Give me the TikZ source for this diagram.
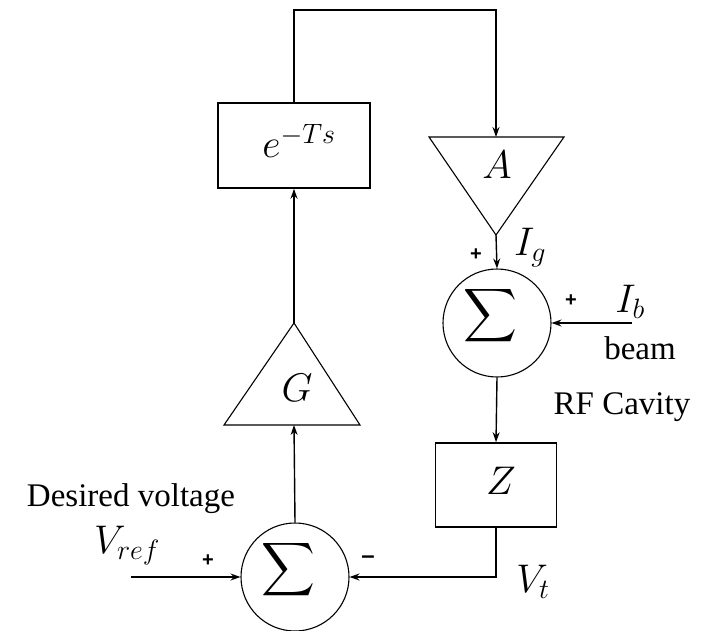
\RequirePackage{fix-cm}
\documentclass[tikz,border=0pt]{standalone}
\usepackage{exscale}
\usepackage{graphicx}
\usepackage{fontspec}
\setmainfont{Liberation Serif}
\newfontfamily\signfont{Liberation Sans}
\usetikzlibrary{arrows.meta}
\begin{document}
\begin{tikzpicture}[x=1pt,y=-1pt,
  conn/.style={line width=1.4pt,-{Stealth[length=10pt,width=7pt]}},
  wire/.style={line width=1.4pt},
  blockbox/.style={draw,line width=1.6pt,rectangle,inner sep=0pt},
  sumnode/.style={draw,line width=1.1pt,circle,minimum size=108pt,inner sep=0pt},
  tri/.style={draw,line width=1.1pt,line join=miter},
  mathlbl/.style={font=\fontsize{40}{48}\selectfont,inner sep=0pt},
  txtlbl/.style={font=\fontsize{33}{40}\selectfont,inner sep=0pt},
  sgn/.style={font=\signfont\bfseries\fontsize{20}{24}\selectfont,inner sep=0pt},
  sigma/.style={font=\fontsize{35}{42}\selectfont,inner sep=0pt}]
\useasboundingbox (0,0) rectangle (706,631);

% blocks
\node[blockbox,minimum width=152pt,minimum height=85pt] (delay) at (294,145.5) {};
\node[mathlbl] (delaytxt) at (299,141) {$e^{-Ts}$};
\node[blockbox,minimum width=121pt,minimum height=84pt] (Z) at (496,485) {};
\node[mathlbl] (Ztxt) at (501,481) {$Z$};

% triangle A (pointing down)
\coordinate (Atop) at (496,137);
\coordinate (Aapex) at (496,235);
\draw[tri] (429,137) -- (564,137) -- (Aapex) -- cycle;
\node[mathlbl] (A) at (497,165) {$A$};

% triangle G (pointing up)
\coordinate (Gbase) at (294,425);
\coordinate (Gapex) at (294,323);
\draw[tri] (224,425) -- (360,425) -- (Gapex) -- cycle;
\node[mathlbl] (G) at (297,388) {$G$};

% summing junctions
\node[sumnode] (sum1) at (497,323) {};
\node[sigma] (sig1) at (490,316) {\scalebox{1.5}{$\displaystyle\sum$}};
\node[sumnode] (sum2) at (295,577) {};
\node[sigma] (sig2) at (288,570) {\scalebox{1.5}{$\displaystyle\sum$}};

% free ends
\coordinate (loopL) at (294,10);
\coordinate (loopR) at (496,10);
\coordinate (Ibin) at (632,323);
\coordinate (Vrefin) at (131,577);
\coordinate (Vtcorner) at (496,577);

% connectors
\draw[conn] (delay.north) -- (loopL) -- (loopR) -- (Atop);
\draw[conn] (Aapex) -- (sum1.north);
\draw[conn] (Ibin) -- (sum1.east);
\draw[conn] (sum1.south) -- (Z.north);
\draw[conn] (Z.south) -- (Vtcorner) -- (sum2.east);
\draw[conn] (Vrefin) -- (sum2.west);
\draw[conn] (sum2.north) -- (Gbase);
\draw[conn] (Gapex) -- (delay.south);

% labels
\node[sgn] (p1) at (476,255) {+};
\node[mathlbl] (Ig) at (530,248) {$I_g$};
\node[sgn] (p2) at (571,301) {+};
\node[mathlbl] (Ib) at (630,302) {$I_b$};
\node[txtlbl] (beam) at (640,348) {beam};
\node[txtlbl] (rf) at (622,407) {RF Cavity};
\node[txtlbl] (desired) at (131,499) {Desired voltage};
\node[mathlbl] (Vref) at (127,546) {$V_{ref}$};
\node[sgn] (p3) at (208,561) {+};
\node[sgn,font=\signfont\bfseries\fontsize{24}{28}\selectfont] (m1) at (368,560) {–};
\node[mathlbl] (Vt) at (533,582) {$V_t$};
\end{tikzpicture}
\end{document}
